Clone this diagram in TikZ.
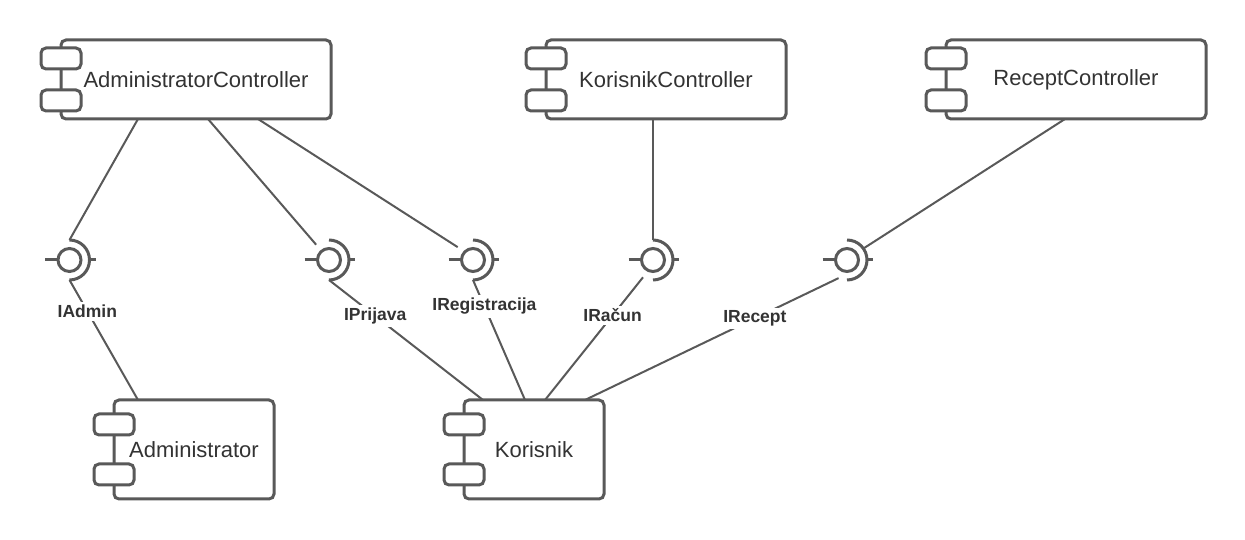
\documentclass[tikz,border=0pt]{standalone}
\usepackage{fontspec}
\setmainfont{Liberation Sans}
\usetikzlibrary{positioning}
\definecolor{umlline}{RGB}{89,89,89}
\definecolor{umltext}{RGB}{51,51,51}
\begin{document}
\begin{tikzpicture}
[x=1pt,y=1pt,
  compdecorate/.style={shape=rectangle,draw=umlline,line width=3pt,
    rounded corners=5pt,fill=white,inner sep=0pt,outer sep=0pt,
    text=umltext,font=\fontsize{22}{25}\selectfont},
  tabdecorate/.style={draw=umlline,line width=3pt,rounded corners=5pt,fill=white},
  ifacedecorate/.style={shape=circle,minimum size=40pt,inner sep=0pt,outer sep=0pt},
  symboldecorate/.style={draw=umlline,line width=3pt},
  linedecorate/.style={-,draw=umlline,line width=2pt},
  labeldecorate/.style={fill=white,inner sep=3pt,text=umltext,
    font=\fontsize{17.5}{20}\selectfont\bfseries}]
\useasboundingbox (0,0) rectangle (1245,540);
%% components
\foreach \nodename/\x/\y/\w/\h/\tab/\compname in {
  AC/196/460.5/270/79/21/AdministratorController,
  KC/666/460.5/240/79/21/KorisnikController,
  RC/1076/460.5/260/79/21/ReceptController,
  AD/194/90.5/160/99/25/Administrator,
  KO/534/90.5/140/99/25/Korisnik}
{
  \node (\nodename) at (\x,\y) [compdecorate,minimum width=\w pt,
    minimum height=\h pt] {\compname};
  \foreach \side in {1,-1}
  {
    \draw[tabdecorate] ([xshift=-20pt,yshift=\side*\tab+10.5]\nodename.west)
      rectangle ([xshift=20pt,yshift=\side*\tab-10.5]\nodename.west);
  }
}
%% interfaces (ball and socket)
\foreach \nodename/\x in {IA/69.5, IP/329, IR/473, IC/653, IE/847}
{
  \node (\nodename) at (\x,280) [ifacedecorate] {};
  \draw[symboldecorate] (\nodename.center) circle[radius=11.5pt];
  \draw[symboldecorate] (\nodename.north)
    arc[start angle=90,end angle=-90,radius=20pt];
  \draw[symboldecorate] ([xshift=-24.5pt]\nodename.center)
    -- ([xshift=-11.5pt]\nodename.center);
  \draw[symboldecorate] (\nodename.east) -- ([xshift=6pt]\nodename.east);
}
%% edges or lines
\foreach \startnode/\xoff/\endnode/\navigate in {AC/77/IA/north,
  AC/147/IP/130, AC/197/IR/140, KC/107/IC/north, RC/119/IE/35}
{
  \draw[linedecorate] ([xshift=\xoff pt]\startnode.south west)
    -- (\endnode.\navigate);
}
\foreach \startnode/\navigate/\endnode/\xoff/\where/\lbl in {
  IA/south/AD/24/0.26/IAdmin, IP/south/KO/19/0.3/IPrijava,
  IR/south/KO/61/0.22/IRegistracija, IC/240/KO/81/0.31/IRačun,
  IE/245/KO/121/0.33/IRecept}
{
  \draw[linedecorate] (\startnode.\navigate)
    -- node[labeldecorate,pos=\where] {\lbl}
    ([xshift=\xoff pt]\endnode.north west);
}
\end{tikzpicture}
\end{document}
